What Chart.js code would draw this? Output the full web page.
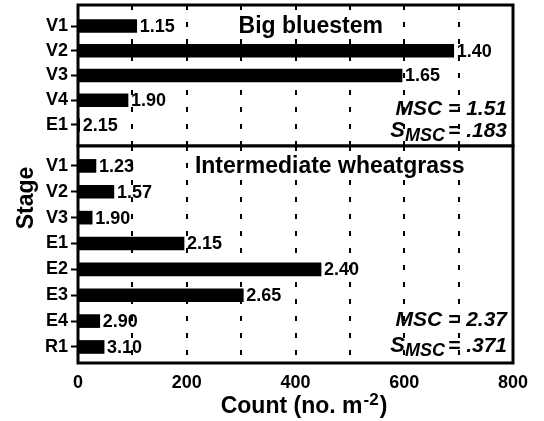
<!DOCTYPE html>
<html>
<head>
<meta charset="utf-8">
<script src="https://cdn.jsdelivr.net/npm/chart.js@4.4.1/dist/chart.umd.min.js"></script>
<style>
  html, body { margin: 0; padding: 0; background: #fff; }
  #wrap { position: relative; width: 544px; height: 421px; }
  #plotTop { position: absolute; left: 0; top: 0; }
  #plotBottom { position: absolute; left: 0; top: 140px; }
</style>
</head>
<body>
<div id="wrap">
  <canvas id="plotTop" width="544" height="147"></canvas>
  <canvas id="plotBottom" width="544" height="281"></canvas>
</div>
<script>
// Big bluestem panel
const bluestemStages = ['V1', 'V2', 'V3', 'V4', 'E1'];
const bluestemCounts = [108, 691, 596, 92, 3];
const bluestemMsc = ['1.15', '1.40', '1.65', '1.90', '2.15'];

// Intermediate wheatgrass panel
const wheatgrassStages = ['V1', 'V2', 'V3', 'E1', 'E2', 'E3', 'E4', 'R1'];
const wheatgrassCounts = [33, 66, 26, 195, 447, 304, 40, 48];
const wheatgrassMsc = ['1.23', '1.57', '1.90', '2.15', '2.40', '2.65', '2.90', '3.10'];

const xTickLabels = [0, 200, 400, 600, 800];
const gridSteps = [0, 100, 200, 300, 400, 500, 600, 700, 800];
const panelTitles = ['Big bluestem', 'Intermediate wheatgrass'];
const panelMsc = ['1.51', '2.37'];
const panelSmsc = ['.183', '.371'];

const FONT = '"Liberation Sans", Arial, Helvetica, sans-serif';
Chart.defaults.font.family = FONT;
Chart.defaults.color = '#000';

const toPoints = (counts) => counts.map((c, i) => ({ x: c, y: i }));

// text drawn on top of each panel: bar labels, title, MSC lines, frame
function panelDecor(p, titleX, mscRows, extra) {
    return {
        id: 'panelDecor' + p,
        afterDatasetsDraw(chart) {
            const { ctx, chartArea: a, scales } = chart;
            const x = scales.x, y = scales.y;
            ctx.save();
            ctx.fillStyle = '#000';
            ctx.strokeStyle = '#000';

            ctx.font = 'bold 18px ' + FONT;
            ctx.textAlign = 'left';
            ctx.textBaseline = 'middle';
            const ds = chart.data.datasets[0];
            chart.getDatasetMeta(0).data.forEach((bar, i) => {
                ctx.fillText(ds.msc[i], bar.x + 3, bar.y + 1);
            });

            // title on a white patch, so the dashed grid stops behind it
            ctx.textBaseline = 'alphabetic';
            ctx.textAlign = 'center';
            ctx.font = 'bold 23px ' + FONT;
            const tX = x.getPixelForValue(titleX);
            const tY = y.getPixelForValue(0) + 7;
            const tW = ctx.measureText(panelTitles[p]).width;
            ctx.fillStyle = '#fff';
            ctx.fillRect(tX - tW / 2 - 2, tY - 18, tW + 4, 24);
            ctx.fillStyle = '#000';
            ctx.fillText(panelTitles[p], tX, tY);

            const right = a.right - 6;
            const y1 = y.getPixelForValue(mscRows[0]);
            const y2 = y.getPixelForValue(mscRows[1]);
            ctx.textAlign = 'right';
            ctx.font = 'italic bold 21px ' + FONT;
            ctx.fillText('MSC = ' + panelMsc[p], right, y1);

            ctx.textAlign = 'left';
            const tail = '= ' + panelSmsc[p];
            ctx.font = 'italic bold 22px ' + FONT;
            const wS = ctx.measureText('S').width;
            ctx.font = 'italic bold 18px ' + FONT;
            const wSub = ctx.measureText('MSC').width;
            ctx.font = 'italic bold 21px ' + FONT;
            const wTail = ctx.measureText(tail).width;
            let cx = right - wTail - 3 - wSub - wS;
            ctx.font = 'italic bold 22px ' + FONT;
            ctx.fillText('S', cx, y2);
            cx += wS;
            ctx.font = 'italic bold 18px ' + FONT;
            ctx.fillText('MSC', cx, y2 + 4);
            cx += wSub + 3;
            ctx.font = 'italic bold 21px ' + FONT;
            ctx.fillText(tail, cx, y2);

            ctx.lineWidth = 3;
            ctx.strokeRect(a.left, a.top, a.right - a.left, a.bottom - a.top);

            if (extra) extra(ctx, chart);
            ctx.restore();
        }
    };
}

function axisTitles(ctx, chart) {
    // x axis title with superscript
    ctx.textAlign = 'left';
    ctx.textBaseline = 'alphabetic';
    ctx.font = 'bold 23px ' + FONT;
    const main = 'Count (no. m';
    const wMain = ctx.measureText(main).width;
    const wClose = ctx.measureText(')').width;
    ctx.font = 'bold 17px ' + FONT;
    const wSup = ctx.measureText('-2').width;
    let tx = 304 - (wMain + wSup + 2 + wClose) / 2;
    const ty = 273;
    ctx.font = 'bold 23px ' + FONT;
    ctx.fillText(main, tx, ty);
    tx += wMain + 1;
    ctx.font = 'bold 17px ' + FONT;
    ctx.fillText('-2', tx, ty - 8);
    tx += wSup + 1;
    ctx.font = 'bold 23px ' + FONT;
    ctx.fillText(')', tx, ty);

    // y axis title
    ctx.save();
    ctx.translate(33, 58);
    ctx.rotate(-Math.PI / 2);
    ctx.textAlign = 'center';
    ctx.fillText('Stage', 0, 0);
    ctx.restore();
}

function panelOptions(stages, yMin, yMax, showX, padding) {
    return {
        indexAxis: 'y',
        responsive: false,
        animation: false,
        layout: { padding: padding },
        plugins: { legend: { display: false }, tooltip: { enabled: false } },
        scales: {
            x: {
                type: 'linear',
                min: 0,
                max: 800,
                afterBuildTicks: (s) => { s.ticks = gridSteps.map(v => ({ value: v })); },
                afterFit: (s) => {
                    s.height = showX ? 58 : 0;
                    s.paddingLeft = 0;
                    s.paddingRight = 0;
                },
                ticks: {
                    display: showX,
                    autoSkip: false,
                    maxRotation: 0,
                    padding: 9,
                    font: { size: 18, weight: 'bold' },
                    color: '#000',
                    callback: (v) => xTickLabels.includes(v) ? String(v) : ''
                },
                grid: {
                    drawTicks: false,
                    lineWidth: 2,
                    color: (c) => (c.tick && (c.tick.value === 0 || c.tick.value === 800)) ? 'rgba(0,0,0,0)' : '#000'
                },
                border: { display: false, dash: [5, 12] }
            },
            y: {
                type: 'linear',
                reverse: true,
                offset: false,
                min: yMin,
                max: yMax,
                afterBuildTicks: (s) => { s.ticks = stages.map((_, i) => ({ value: i })); },
                afterFit: (s) => {
                    s.width = 78;
                    s.paddingTop = 0;
                    s.paddingBottom = 0;
                },
                ticks: {
                    autoSkip: false,
                    callback: (v) => stages[v] ?? '',
                    font: { size: 18, weight: 'bold' },
                    color: '#000',
                    padding: 3
                },
                grid: { offset: false, drawOnChartArea: false, tickLength: 7, tickWidth: 2, tickColor: '#000' },
                border: { display: false }
            }
        }
    };
}

const ctxTop = document.getElementById('plotTop').getContext('2d');
new Chart(ctxTop, {
    type: 'bar',
    data: {
        datasets: [{
            label: panelTitles[0],
            data: toPoints(bluestemCounts),
            msc: bluestemMsc,
            backgroundColor: '#000',
            barThickness: 13
        }]
    },
    options: panelOptions(bluestemStages, -0.85, 4.85, false, { left: 0, right: 31, top: 5, bottom: 1 }),
    plugins: [panelDecor(0, 428, [3.6, 4.47])]
});

const ctxBottom = document.getElementById('plotBottom').getContext('2d');
new Chart(ctxBottom, {
    type: 'bar',
    data: {
        datasets: [{
            label: panelTitles[1],
            data: toPoints(wheatgrassCounts),
            msc: wheatgrassMsc,
            backgroundColor: '#000',
            barThickness: 13
        }]
    },
    options: panelOptions(wheatgrassStages, -0.77, 7.62, true, { left: 0, right: 31, top: 6, bottom: 0 }),
    plugins: [panelDecor(1, 463, [6.2, 7.2], axisTitles)]
});
</script>
</body>
</html>
